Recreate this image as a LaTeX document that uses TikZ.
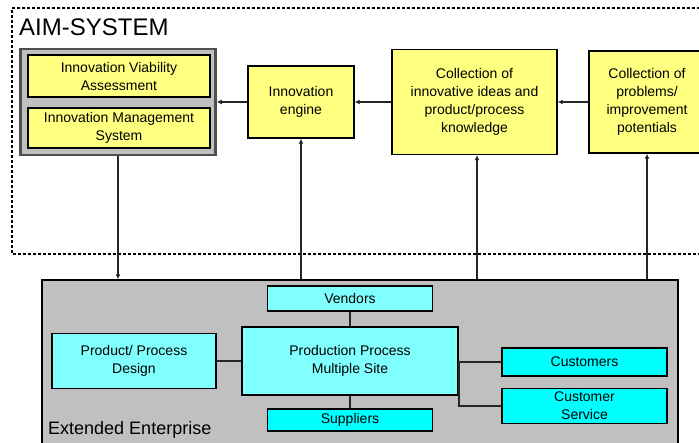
\documentclass[tikz,border=0pt]{standalone}
\usepackage{fontspec}
\setmainfont{Liberation Sans}
\usetikzlibrary{arrows.meta}

\definecolor{aimyellow}{HTML}{FFFF80}
\definecolor{palecyan}{HTML}{80FFFF}
\definecolor{fullcyan}{HTML}{00FFFF}
\definecolor{panelgray}{HTML}{C0C0C0}
\definecolor{rimgray}{HTML}{505050}

\tikzset{
  box/.style={draw=black, line width=1.4pt, align=center, inner sep=0pt,
    font=\fontsize{14}{18}\selectfont},
  yellowbox/.style={box, fill=aimyellow},
  palebox/.style={box, fill=palecyan},
  cyanbox/.style={box, fill=fullcyan},
  link/.style={line width=1.8pt, draw=black!85},
  flow/.style={link, -{Latex[length=5pt,width=5pt]}}
}

\begin{document}
\begin{tikzpicture}[x=1pt, y=-1pt]
    \useasboundingbox (0,0) rectangle (699,442);

    % AIM-SYSTEM frame
    \draw [line width=1.2pt, dash pattern=on 3pt off 2pt] (710,8) -- (12,8) -- (12,254) -- (710,254);
    \node [anchor=west, inner sep=0pt, font=\fontsize{24}{28}\selectfont] (aimlabel) at (19,27) {AIM-SYSTEM};

    \node [draw=rimgray, line width=2.5pt, fill=panelgray, minimum width=195pt, minimum height=106pt] (ivagroup) at (118,102) {};
    \node [yellowbox, minimum width=182pt, minimum height=42pt] (iva) at (119,76) {Innovation Viability\\Assessment};
    \node [yellowbox, minimum width=182pt, minimum height=40pt] (ims) at (119,128) {Innovation Management\\System};

    \node [yellowbox, minimum width=106pt, minimum height=72pt] (engine) at (301,102) {Innovation\\engine};
    \node [yellowbox, minimum width=165pt, minimum height=105pt] (ideas) at (474.5,102) {Collection of\\innovative ideas and\\product/process\\knowledge};
    \node [yellowbox, minimum width=116pt, minimum height=102pt] (problems) at (647,102) {Collection of\\problems/\\improvement\\potentials};

    % Extended Enterprise
    \node [draw=black, line width=1.4pt, fill=panelgray, minimum width=636pt, minimum height=180pt] (extended) at (360,370) {};
    \node [anchor=west, inner sep=0pt, font=\fontsize{18}{22}\selectfont] (extlabel) at (48,430) {Extended Enterprise};

    \node [palebox, minimum width=165pt, minimum height=25pt] (vendors) at (350,298.5) {Vendors};
    \node [palebox, minimum width=216pt, minimum height=68pt] (production) at (350,361) {Production Process\\Multiple Site};
    \node [palebox, minimum width=164pt, minimum height=55pt] (design) at (134,361) {Product/ Process\\Design};
    \node [cyanbox, minimum width=165pt, minimum height=22pt] (suppliers) at (350,420) {Suppliers};
    \node [cyanbox, minimum width=165pt, minimum height=28pt] (customers) at (584.5,362) {Customers};
    \node [cyanbox, minimum width=165pt, minimum height=35pt] (service) at (584.5,406) {Customer\\Service};

    \draw [flow] (engine.west) -- (ivagroup.east);
    \draw [flow] (ideas.west) -- (ideas.west -| engine.east);
    \draw [flow] (problems.west) -- (problems.west -| ideas.east);

    \draw [flow] (ivagroup.south) -- (ivagroup.south |- extended.north);
    \draw [flow] (engine.south |- extended.north) -- (engine.south);
    \draw [flow] ([xshift=2.5pt]ideas.south |- extended.north) -- ([xshift=2.5pt]ideas.south);
    \draw [flow] (problems.south |- extended.north) -- (problems.south);

    \draw [link] (design.east) -- (design.east -| production.west);
    \draw [link] (vendors) -- (production);
    \draw [link] (production) -- (suppliers);
    \draw [link] (customers.west) -- (customers.west -| production.east) |- (service.west);
\end{tikzpicture}
\end{document}
